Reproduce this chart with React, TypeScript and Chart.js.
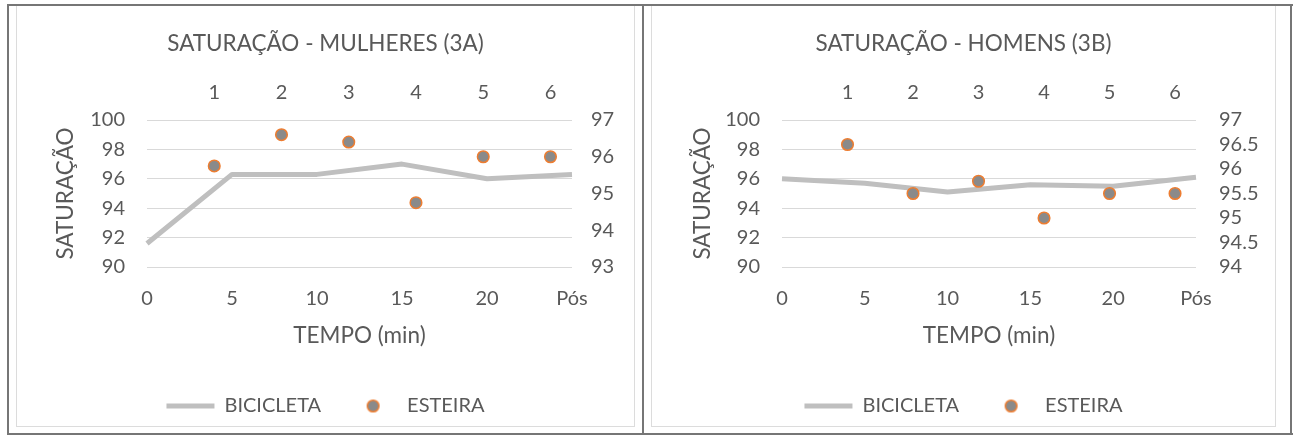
import React, { useEffect, useRef } from 'react';
import { Chart, registerables } from 'chart.js';

Chart.register(...registerables);

// ---- data ----
const timeLabels = ['0', '5', '10', '15', '20', 'Pós'];
const stageValues = [1, 2, 3, 4, 5, 6];
const stageLabels = ['1', '2', '3', '4', '5', '6'];
const saturationTicks = [90, 92, 94, 96, 98, 100];

const bicicletaMulheres = [91.6, 96.3, 96.3, 97.0, 96.0, 96.3];
const esteiraMulheres = [95.75, 96.6, 96.4, 94.75, 96.0, 96.0];
const esteiraTicksMulheres = [93, 94, 95, 96, 97];

const bicicletaHomens = [96.0, 95.7, 95.1, 95.6, 95.5, 96.1];
const esteiraHomens = [96.5, 95.5, 95.75, 95.0, 95.5, 95.5];
const esteiraTicksHomens = [94, 94.5, 95, 95.5, 96, 96.5, 97];

// ---- style ----
const FONT = 'Lato, "Open Sans", sans-serif';
const TEXT = '#595959';
const GRID = '#d9d9d9';
const LINE = '#bfbfbf';
const DOT = '#8a8a8a';
const DOT_EDGE = '#ed7d31';
const FRAME = '#767676';

const CH = 420;
const PLOT_TOP = 114;
const PLOT_BOTTOM = 254;
const PLOT_LEFT = 130;
const TITLE_SIZE = 22.5;
const TICK_SIZE = 20;
const AXIS_TITLE_SIZE = 22.5;
const LEGEND_SIZE = 20;
const TITLE_PAD_TOP = 24.5;
const TITLE_BLOCK = TITLE_PAD_TOP + TITLE_SIZE * 1.2;
const LEGEND_H = 65;
const LEGEND_TOP = CH - LEGEND_H;

type Spec = {
  title: string;
  bike: number[];
  tread: number[];
  rightTicks: number[];
  width: number;
  rightAxisWidth: number;
  rightTickPad: number;
  yTitlePad: number;
};

function makeDot() {
  const c = document.createElement('canvas');
  c.width = 15;
  c.height = 15;
  const g = c.getContext('2d') as CanvasRenderingContext2D;
  g.beginPath();
  g.arc(7.5, 7.5, 5.8, 0, Math.PI * 2);
  g.fillStyle = DOT;
  g.fill();
  g.lineWidth = 1.5;
  g.strokeStyle = DOT_EDGE;
  g.stroke();
  return c;
}

function makeChart(canvas: HTMLCanvasElement, spec: Spec) {
  const dot = makeDot();
  const tickFont = { family: FONT, size: TICK_SIZE };
  const rMin = spec.rightTicks[0];
  const rMax = spec.rightTicks[spec.rightTicks.length - 1];
  return new Chart(canvas, {
    type: 'line',
    data: {
      labels: timeLabels,
      datasets: [
        {
          type: 'line',
          label: 'BICICLETA',
          data: spec.bike,
          borderColor: LINE,
          backgroundColor: LINE,
          borderWidth: 5,
          pointRadius: 0,
          pointHoverRadius: 0,
          tension: 0,
          xAxisID: 'x',
          yAxisID: 'y',
          order: 2,
          borderJoinStyle: 'round',
        },
        {
          type: 'scatter',
          label: 'ESTEIRA',
          data: stageValues.map((x, i) => ({ x, y: spec.tread[i] })),
          xAxisID: 'x2',
          yAxisID: 'y2',
          pointRadius: 5.8,
          pointHoverRadius: 5.8,
          pointBackgroundColor: DOT,
          pointBorderColor: DOT_EDGE,
          pointBorderWidth: 1.5,
          showLine: false,
          order: 1,
        },
      ],
    } as any,
    options: {
      responsive: false,
      animation: false,
      devicePixelRatio: 1,
      events: [],
      layout: { padding: 0 },
      plugins: {
        title: {
          display: true,
          text: spec.title,
          color: TEXT,
          font: { family: FONT, size: TITLE_SIZE, weight: 'normal' },
          padding: { top: TITLE_PAD_TOP, bottom: 0 },
        },
        legend: {
          position: 'bottom',
          maxHeight: LEGEND_H,
          labels: {
            usePointStyle: true,
            pointStyleWidth: 48,
            padding: 28,
            color: TEXT,
            font: { family: FONT, size: LEGEND_SIZE },
            generateLabels: () => [
              {
                text: 'BICICLETA',
                pointStyle: 'line',
                strokeStyle: LINE,
                fillStyle: LINE,
                lineWidth: 5,
                fontColor: TEXT,
                hidden: false,
                datasetIndex: 0,
              },
              {
                text: 'ESTEIRA',
                pointStyle: dot,
                strokeStyle: DOT_EDGE,
                fillStyle: DOT,
                lineWidth: 1.5,
                fontColor: TEXT,
                hidden: false,
                datasetIndex: 1,
              },
            ],
          },
        },
        tooltip: { enabled: false },
      },
      scales: {
        x: {
          type: 'category',
          position: 'bottom',
          offset: false,
          grid: { display: false, drawTicks: false },
          border: { display: false },
          ticks: { color: TEXT, font: tickFont, padding: 19.7, maxRotation: 0, autoSkip: false },
          title: {
            display: true,
            text: 'TEMPO (min)',
            color: TEXT,
            font: { family: FONT, size: AXIS_TITLE_SIZE },
            padding: { top: 0, bottom: 18.5 },
          },
          afterFit: (s: any) => {
            s.height = LEGEND_TOP - PLOT_BOTTOM;
          },
        },
        x2: {
          type: 'linear',
          position: 'top',
          min: 0,
          max: 6.32,
          grid: { display: false, drawTicks: false },
          border: { display: false },
          afterBuildTicks: (s: any) => {
            s.ticks = stageValues.map((v) => ({ value: v }));
          },
          ticks: {
            color: TEXT,
            font: tickFont,
            padding: 15.2,
            maxRotation: 0,
            autoSkip: false,
            callback: (v: any) => {
              const i = stageValues.indexOf(Number(v));
              return i >= 0 ? stageLabels[i] : '';
            },
          },
          afterFit: (s: any) => {
            s.height = PLOT_TOP - TITLE_BLOCK;
          },
        },
        y: {
          position: 'left',
          min: saturationTicks[0],
          max: saturationTicks[saturationTicks.length - 1],
          afterBuildTicks: (s: any) => {
            s.ticks = saturationTicks.map((v) => ({ value: v }));
          },
          grid: { color: GRID, lineWidth: 1, drawTicks: false },
          border: { display: false },
          ticks: { color: TEXT, font: tickFont, padding: 22, autoSkip: false, callback: (v: any) => String(v) },
          title: {
            display: true,
            text: 'SATURAÇÃO',
            color: TEXT,
            font: { family: FONT, size: AXIS_TITLE_SIZE },
            padding: { top: spec.yTitlePad, bottom: 0 },
          },
          afterFit: (s: any) => {
            s.width = PLOT_LEFT;
          },
        },
        y2: {
          position: 'right',
          min: rMin,
          max: rMax,
          afterBuildTicks: (s: any) => {
            s.ticks = spec.rightTicks.map((v) => ({ value: v }));
          },
          grid: { display: false, drawTicks: false },
          border: { display: false },
          ticks: {
            color: TEXT,
            font: tickFont,
            padding: spec.rightTickPad,
            autoSkip: false,
            callback: (v: any) => String(v),
          },
          afterFit: (s: any) => {
            s.width = spec.rightAxisWidth;
          },
        },
      },
    } as any,
  });
}

function Panel({ spec, left }: { spec: Spec; left: number }) {
  const ref = useRef<HTMLCanvasElement>(null);
  useEffect(() => {
    const chart = makeChart(ref.current as HTMLCanvasElement, spec);
    return () => chart.destroy();
  }, []);
  return (
    <canvas
      ref={ref}
      width={spec.width}
      height={CH}
      style={{ position: 'absolute', left, top: 6, width: spec.width, height: CH }}
    />
  );
}

const leftSpec: Spec = {
  title: 'SATURAÇÃO - MULHERES (3A)',
  bike: bicicletaMulheres,
  tread: esteiraMulheres,
  rightTicks: esteiraTicksMulheres,
  width: 617,
  rightAxisWidth: 62,
  rightTickPad: 19,
  yTitlePad: 35.5,
};

const rightSpec: Spec = {
  title: 'SATURAÇÃO - HOMENS (3B)',
  bike: bicicletaHomens,
  tread: esteiraHomens,
  rightTicks: esteiraTicksHomens,
  width: 623,
  rightAxisWidth: 79,
  rightTickPad: 23,
  yTitlePad: 37.5,
};

const line = (l: number, t: number, w: number, h: number, c: string) => (
  <div style={{ position: 'absolute', left: l, top: t, width: w, height: h, background: c }} />
);

export default function App() {
  return (
    <div style={{ position: 'fixed', left: 0, top: 0, width: 1297, height: 436, background: '#fff', overflow: 'hidden' }}>
      {/* light chart-area borders */}
      <div style={{ position: 'absolute', left: 16, top: 5, width: 619, height: 422, border: '1px solid #dcdcdc', boxSizing: 'border-box' }} />
      <div style={{ position: 'absolute', left: 651, top: 5, width: 625, height: 422, border: '1px solid #dcdcdc', boxSizing: 'border-box' }} />
      <Panel spec={leftSpec} left={17} />
      <Panel spec={rightSpec} left={652} />
      {/* dark outer frame */}
      {line(7, 4, 1286, 2, FRAME)}
      {line(7, 433, 1286, 2, FRAME)}
      {line(7, 4, 2, 431, FRAME)}
      {line(642, 4, 2, 431, FRAME)}
      {line(1290, 4, 2, 431, FRAME)}
    </div>
  );
}
